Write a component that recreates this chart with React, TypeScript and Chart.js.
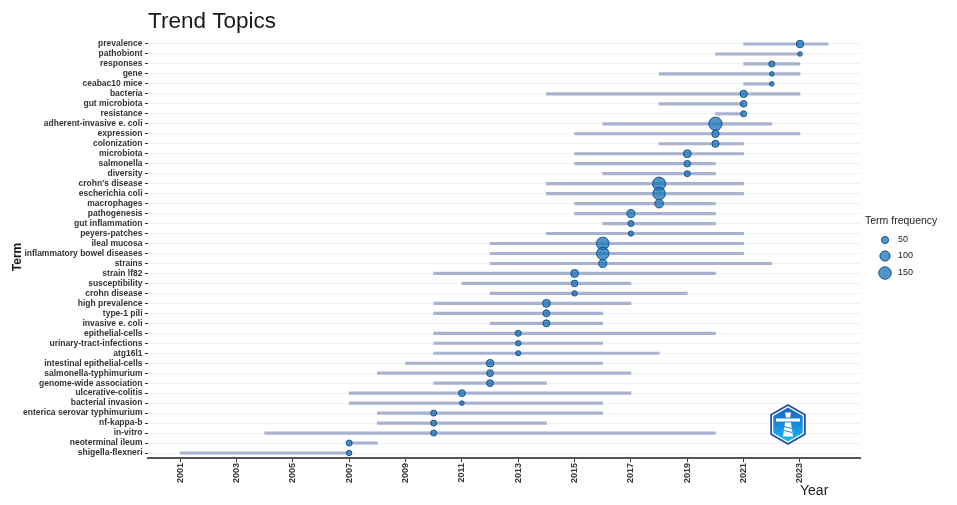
import React, { useEffect, useRef } from 'react';
import { Chart, registerables } from 'chart.js';

Chart.register(...registerables);

const terms = [
  'prevalence', 'pathobiont', 'responses', 'gene', 'ceabac10 mice', 'bacteria',
  'gut microbiota', 'resistance', 'adherent-invasive e. coli', 'expression',
  'colonization', 'microbiota', 'salmonella', 'diversity', "crohn's disease",
  'escherichia coli', 'macrophages', 'pathogenesis', 'gut inflammation',
  'peyers-patches', 'ileal mucosa', 'inflammatory bowel diseases', 'strains',
  'strain lf82', 'susceptibility', 'crohn disease', 'high prevalence',
  'type-1 pili', 'invasive e. coli', 'epithelial-cells', 'urinary-tract-infections',
  'atg16l1', 'intestinal epithelial-cells', 'salmonella-typhimurium',
  'genome-wide association', 'ulcerative-colitis', 'bacterial invasion',
  'enterica serovar typhimurium', 'nf-kappa-b', 'in-vitro', 'neoterminal ileum',
  'shigella-flexneri',
];

const q1Years = [
  2021, 2020, 2021, 2018, 2021, 2014, 2018, 2020, 2016, 2015, 2018, 2015, 2015, 2016,
  2014, 2014, 2015, 2015, 2016, 2014, 2012, 2012, 2012, 2010, 2011, 2012, 2010, 2010,
  2012, 2010, 2010, 2010, 2009, 2008, 2010, 2007, 2007, 2008, 2008, 2004, 2007, 2001,
];

const medianYears = [
  2023, 2023, 2022, 2022, 2022, 2021, 2021, 2021, 2020, 2020, 2020, 2019, 2019, 2019,
  2018, 2018, 2018, 2017, 2017, 2017, 2016, 2016, 2016, 2015, 2015, 2015, 2014, 2014,
  2014, 2013, 2013, 2013, 2012, 2012, 2012, 2011, 2011, 2010, 2010, 2010, 2007, 2007,
];

const q3Years = [
  2024, 2023, 2023, 2023, 2022, 2023, 2021, 2021, 2022, 2023, 2021, 2021, 2020, 2020,
  2021, 2021, 2020, 2020, 2020, 2021, 2021, 2021, 2022, 2020, 2017, 2019, 2017, 2016,
  2016, 2020, 2016, 2018, 2016, 2017, 2014, 2017, 2016, 2016, 2014, 2020, 2008, 2007,
];

const termFreq = [
  55, 20, 35, 20, 20, 52, 42, 35, 170, 52, 50, 60, 42, 35,
  165, 152, 72, 62, 35, 27, 155, 150, 62, 60, 42, 28, 60, 47,
  47, 35, 28, 25, 55, 45, 45, 45, 20, 35, 35, 35, 35, 28,
];

const xTickYears = [2001, 2003, 2005, 2007, 2009, 2011, 2013, 2015, 2017, 2019, 2021, 2023];
const legendFreqs = [50, 100, 150];

const FONT = "'Liberation Sans', Arial, sans-serif";
const DOT_FILL = 'rgba(31,120,186,0.78)';
const DOT_BORDER = 'rgba(18,78,138,0.95)';
const LINE_COLOR = '#a9b3cf';

const radiusOf = (f: number) => 0.51 * Math.sqrt(f);

const overlayPlugin = {
  id: 'overlay',
  afterDraw(chart: any) {
    const ctx = chart.ctx as CanvasRenderingContext2D;
    ctx.save();
    // Title
    ctx.fillStyle = '#1a1a1a';
    ctx.font = `22.5px ${FONT}`;
    ctx.textAlign = 'left';
    ctx.textBaseline = 'alphabetic';
    ctx.fillText('Trend Topics', 148, 28);

    // Y title
    ctx.save();
    ctx.translate(20.5, 257);
    ctx.rotate(-Math.PI / 2);
    ctx.font = `bold 12px ${FONT}`;
    ctx.textAlign = 'center';
    ctx.textBaseline = 'alphabetic';
    ctx.fillStyle = '#1a1a1a';
    ctx.fillText('Term', 0, 0);
    ctx.restore();

    // X title
    ctx.font = `14px ${FONT}`;
    ctx.textAlign = 'left';
    ctx.fillStyle = '#1a1a1a';
    ctx.fillText('Year', 800, 495);

    // Legend
    ctx.font = `10.5px ${FONT}`;
    ctx.fillStyle = '#1a1a1a';
    ctx.fillText('Term frequency', 865, 224);
    const ys = [240, 256, 273];
    legendFreqs.forEach((f, i) => {
      const r = radiusOf(f);
      ctx.beginPath();
      ctx.arc(885, ys[i], r, 0, Math.PI * 2);
      ctx.fillStyle = DOT_FILL;
      ctx.fill();
      ctx.lineWidth = 1;
      ctx.strokeStyle = DOT_BORDER;
      ctx.stroke();
      ctx.fillStyle = '#1a1a1a';
      ctx.font = `9px ${FONT}`;
      ctx.textBaseline = 'middle';
      ctx.fillText(String(f), 898, ys[i]);
    });

    // Logo (hexagon badge)
    const cx = 788;
    const cy = 424.5;
    const R = 20.5;
    const hex = (rad: number) => {
      ctx.beginPath();
      for (let k = 0; k < 6; k++) {
        const a = -Math.PI / 2 + (k * Math.PI) / 3;
        const px = cx + rad * Math.cos(a);
        const py = cy + rad * Math.sin(a);
        if (k === 0) ctx.moveTo(px, py);
        else ctx.lineTo(px, py);
      }
      ctx.closePath();
    };
    hex(R);
    ctx.fillStyle = '#1d4fa8';
    ctx.fill();
    hex(R - 2);
    ctx.fillStyle = '#ffffff';
    ctx.fill();
    const g = ctx.createLinearGradient(cx, cy - R, cx, cy + R);
    g.addColorStop(0, '#1f5fc4');
    g.addColorStop(0.55, '#1a8fe0');
    g.addColorStop(1, '#12c6f2');
    hex(R - 3.5);
    ctx.fillStyle = g;
    ctx.fill();
    // lighthouse
    ctx.fillStyle = '#ffffff';
    ctx.fillRect(cx - 12, cy - 6, 24, 3);
    ctx.beginPath();
    ctx.moveTo(cx - 3, cy - 12);
    ctx.lineTo(cx + 3, cy - 12);
    ctx.lineTo(cx + 2, cy - 7);
    ctx.lineTo(cx - 2, cy - 7);
    ctx.closePath();
    ctx.fill();
    ctx.beginPath();
    ctx.moveTo(cx - 3, cy - 2);
    ctx.lineTo(cx + 3, cy - 2);
    ctx.lineTo(cx + 5, cy + 12);
    ctx.lineTo(cx - 5, cy + 12);
    ctx.closePath();
    ctx.fill();
    ctx.strokeStyle = '#1f86d9';
    ctx.lineWidth = 1;
    ctx.beginPath();
    ctx.moveTo(cx - 4, cy + 2);
    ctx.lineTo(cx + 4, cy + 4);
    ctx.moveTo(cx - 4, cy + 6);
    ctx.lineTo(cx + 4, cy + 8);
    ctx.stroke();
    ctx.restore();
  },
};

export default function App() {
  const canvasRef = useRef<HTMLCanvasElement | null>(null);

  useEffect(() => {
    const canvas = canvasRef.current;
    if (!canvas) return;
    const chart = new Chart(canvas, {
      type: 'bar',
      data: {
        labels: terms,
        datasets: [
          {
            type: 'scatter',
            data: terms.map((t, i) => ({ x: medianYears[i], y: t })),
            pointRadius: termFreq.map(radiusOf),
            pointHoverRadius: termFreq.map(radiusOf),
            pointBackgroundColor: DOT_FILL,
            pointBorderColor: DOT_BORDER,
            pointBorderWidth: 1,
            order: 0,
          } as any,
          {
            type: 'bar',
            indexAxis: 'y',
            data: terms.map((_, i) => [q1Years[i], q3Years[i]]),
            backgroundColor: LINE_COLOR,
            borderWidth: 0,
            barThickness: 2.5,
            borderSkipped: false,
            order: 1,
          } as any,
        ],
      },
      options: {
        responsive: false,
        animation: false,
        devicePixelRatio: 1,
        layout: { padding: { top: 39, right: 97, bottom: 0, left: 0 } },
        plugins: { legend: { display: false }, tooltip: { enabled: false } },
        scales: {
          x: {
            type: 'linear',
            min: 1999.86,
            max: 2025.13,
            offset: false,
            afterBuildTicks: (scale: any) => {
              scale.ticks = xTickYears.map((v) => ({ value: v }));
            },
            afterFit: (scale: any) => {
              scale.height = 47;
            },
            border: { display: true, color: '#555555', width: 2 },
            grid: {
              offset: false,
              drawOnChartArea: false,
              drawTicks: true,
              tickLength: 4,
              tickColor: '#333333',
            },
            ticks: {
              minRotation: 90,
              maxRotation: 90,
              padding: 1,
              color: '#333333',
              font: { family: FONT, size: 9, weight: 'bold' },
              callback: (v: any) => String(v),
            },
          },
          y: {
            type: 'category',
            labels: terms,
            offset: true,
            afterFit: (scale: any) => {
              scale.width = 148;
            },
            border: { display: false },
            grid: {
              offset: false,
              color: 'rgba(0,0,0,0.055)',
              lineWidth: 1,
              drawTicks: true,
              tickLength: 3,
              tickColor: '#333333',
            },
            ticks: {
              padding: 2.5,
              color: '#333333',
              autoSkip: false,
              font: { family: FONT, size: 8.5, weight: 'bold' },
            },
          },
        },
      } as any,
      plugins: [overlayPlugin],
    });
    return () => chart.destroy();
  }, []);

  return (
    <div style={{ position: 'fixed', left: 0, top: 0, width: 957, height: 505, background: '#ffffff' }}>
      <canvas ref={canvasRef} width={957} height={505} style={{ display: 'block' }} />
    </div>
  );
}
